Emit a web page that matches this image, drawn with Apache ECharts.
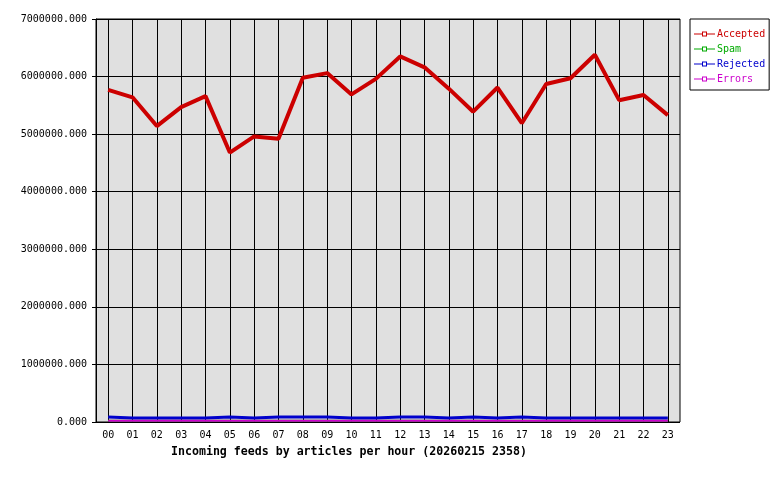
<!DOCTYPE html>
<html>
<head>
	<meta charset="UTF-8">
	<title>Incoming feeds</title>
	<script src="https://cdn.jsdelivr.net/npm/echarts@6/dist/echarts.min.js"></script>
	<style>
		html, body { margin: 0; padding: 0; background: #fff; }
		#chart { width: 780px; height: 480px; }
	</style>
</head>
<body>
<div id="chart"></div>
<script>
	// hours of the day
	var hours = ['00','01','02','03','04','05','06','07','08','09','10','11',
		'12','13','14','15','16','17','18','19','20','21','22','23'];
	var yTicks = [0, 1000000, 2000000, 3000000, 4000000, 5000000, 6000000, 7000000];

	// articles per hour
	var accepted = [5770000, 5640000, 5140000, 5470000, 5660000, 4680000, 4960000, 4920000,
		5980000, 6060000, 5690000, 5960000, 6350000, 6160000, 5790000, 5390000,
		5810000, 5190000, 5870000, 5970000, 6380000, 5590000, 5680000, 5330000];
	var spam = [22000, 22000, 22000, 22000, 22000, 22000, 22000, 22000,
		22000, 22000, 22000, 22000, 22000, 22000, 22000, 22000,
		22000, 22000, 22000, 22000, 22000, 22000, 22000, 22000];
	var rejected = [85000, 68000, 68000, 68000, 68000, 85000, 68000, 85000,
		85000, 85000, 68000, 68000, 85000, 85000, 68000, 85000,
		68000, 85000, 68000, 68000, 68000, 68000, 68000, 68000];
	var errors = [22000, 22000, 22000, 22000, 22000, 22000, 22000, 22000,
		22000, 22000, 22000, 22000, 22000, 22000, 22000, 22000,
		22000, 22000, 22000, 22000, 22000, 22000, 22000, 22000];

	var font = 'DejaVu Sans Mono';
	// legend key: thin line with a small hollow square in the middle
	var keyIcon = 'path://M0 5H8V6H0Z M13 5H21V6H13Z M8 3H13V4H8Z M8 7H13V8H8Z M8 3H9V8H8Z M12 3H13V8H12Z';
	var chart = echarts.init(document.getElementById('chart'));

	function mkSeries(name, data, color, width) {
		return {
			name: name, type: 'line', data: data,
			xAxisIndex: 1, yAxisIndex: 1,
			showSymbol: false,
			lineStyle: { color: color, width: width },
			itemStyle: { color: color },
			animation: false
		};
	}

	var option = {
		animation: false,
		grid: [
			// plot frame
			{ left: 96, top: 19, width: 584, height: 403, show: true,
				backgroundColor: '#e0e0e0', borderColor: '#000', borderWidth: 1 },
			// category centres
			{ left: 96 + 584 / 48, top: 19, width: 584 - 584 / 24, height: 403 }
		],
		xAxis: [
			{ gridIndex: 0, type: 'category', data: hours, show: false },
			{ gridIndex: 1, type: 'category', data: hours, boundaryGap: false,
				axisLine: { show: false }, axisTick: { show: false },
				axisLabel: { interval: 0, margin: 8, fontFamily: font, fontSize: 10, color: '#000' },
				splitLine: { show: true, interval: 0, lineStyle: { color: '#000', width: 1 } } }
		],
		yAxis: [
			{ gridIndex: 0, type: 'value', min: yTicks[0], max: yTicks[yTicks.length - 1],
				interval: yTicks[1] - yTicks[0],
				axisLine: { show: true, lineStyle: { color: '#000' } },
				axisTick: { show: true, length: 4, lineStyle: { color: '#000' } },
				axisLabel: { margin: 9, fontFamily: font, fontSize: 10, color: '#000',
					formatter: function (v) { return v.toFixed(3); } },
				splitLine: { show: true, lineStyle: { color: '#000', width: 1 } } },
			{ gridIndex: 1, type: 'value', min: yTicks[0], max: yTicks[yTicks.length - 1], show: false }
		],
		legend: {
			orient: 'vertical', left: 690, top: 19,
			backgroundColor: '#fff', borderColor: '#000', borderWidth: 1,
			padding: [10, 4, 6, 4], itemGap: 5, itemWidth: 21, itemHeight: 10,
			icon: keyIcon,
			textStyle: { fontFamily: font, fontSize: 10, padding: [0, 0, 0, -3] },
			data: [
				{ name: 'Accepted', textStyle: { color: '#cc0000' } },
				{ name: 'Spam', textStyle: { color: '#00aa00' } },
				{ name: 'Rejected', textStyle: { color: '#0000cc' } },
				{ name: 'Errors', textStyle: { color: '#cc00cc' } }
			]
		},
		graphic: [{
			type: 'text', left: 171, top: 446,
			style: { text: 'Incoming feeds by articles per hour (20260215 2358)',
				fontFamily: font, fontSize: 11.6, fontWeight: 'bold', fill: '#000' }
		}],
		series: [
			mkSeries('Accepted', accepted, '#cc0000', 4),
			mkSeries('Spam', spam, '#00aa00', 2),
			mkSeries('Rejected', rejected, '#0000cc', 3),
			mkSeries('Errors', errors, '#cc00cc', 2)
		]
	};
	chart.setOption(option);
</script>
</body>
</html>
